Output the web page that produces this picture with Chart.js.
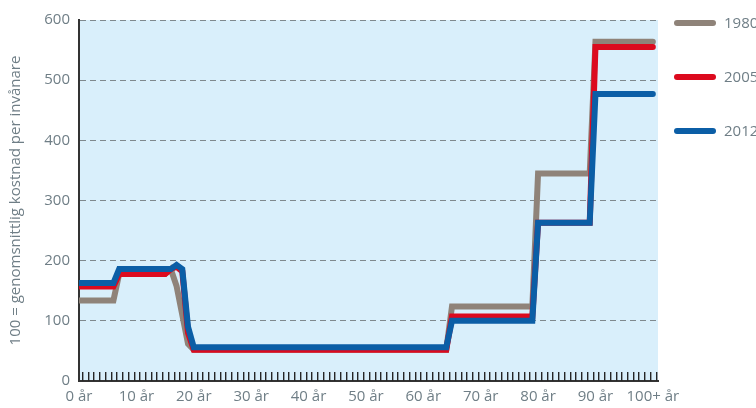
<!DOCTYPE html>
<html>
<head>
<meta charset="utf-8">
<script src="https://cdn.jsdelivr.net/npm/chart.js@4/dist/chart.umd.min.js"></script>
<style>
  html, body { margin: 0; padding: 0; background: #ffffff; overflow: hidden; }
  #wrap { position: relative; width: 756px; height: 408px; }
</style>
</head>
<body>
<div id="wrap"><canvas id="c" width="756" height="408"></canvas></div>
<script>
// Age categories (years), 100 = "100+"
const ages = [0,1,2,3,4,5,6,7,8,9,10,11,12,13,14,15,16,17,18,19,20,21,22,23,24,25,26,27,28,29,30,31,32,33,34,35,36,37,38,39,40,41,42,43,44,45,46,47,48,49,50,51,52,53,54,55,56,57,58,59,60,61,62,63,64,65,66,67,68,69,70,71,72,73,74,75,76,77,78,79,80,81,82,83,84,85,86,87,88,89,90,91,92,93,94,95,96,97,98,99,100];

// Cost index per age (100 = average cost per inhabitant)
const values1980 = [134,134,134,134,134,134,134,178,178,178,178,178,178,178,178,178,186,158,110,62,52,52,52,52,52,52,52,52,52,52,52,52,52,52,52,52,52,52,52,52,52,52,52,52,52,52,52,52,52,52,52,52,52,52,52,52,52,52,52,52,52,52,52,52,52,124,124,124,124,124,124,124,124,124,124,124,124,124,124,124,345,345,345,345,345,345,345,345,345,345,564,564,564,564,564,564,564,564,564,564,564];
const values2005 = [157,157,157,157,157,157,157,178,178,178,178,178,178,178,178,178,186,190,182,80,52,52,52,52,52,52,52,52,52,52,52,52,52,52,52,52,52,52,52,52,52,52,52,52,52,52,52,52,52,52,52,52,52,52,52,52,52,52,52,52,52,52,52,52,52,107,107,107,107,107,107,107,107,107,107,107,107,107,107,107,263,263,263,263,263,263,263,263,263,263,555,555,555,555,555,555,555,555,555,555,555];
const values2012 = [163,163,163,163,163,163,163,186,186,186,186,186,186,186,186,186,186,193,186,90,56,56,56,56,56,56,56,56,56,56,56,56,56,56,56,56,56,56,56,56,56,56,56,56,56,56,56,56,56,56,56,56,56,56,56,56,56,56,56,56,56,56,56,56,56,100,100,100,100,100,100,100,100,100,100,100,100,100,100,100,263,263,263,263,263,263,263,263,263,263,477,477,477,477,477,477,477,477,477,477,477];

const seriesNames = ['1980', '2005', '2012'];
const xTickAges = [0,10,20,30,40,50,60,70,80,90,100];
const xTickLabels = ['0 år','10 år','20 år','30 år','40 år','50 år','60 år','70 år','80 år','90 år','100+ år'];
const yTickValues = [0,100,200,300,400,500,600];
const yTitle = '100 = genomsnittlig kostnad per invånare';

const colors = ['#8f8379', '#dc0a1e', '#0b5ea6'];
const textColor = '#6f7e86';
const fontFamily = "'Open Sans', 'Noto Sans', sans-serif";

function pts(vals) { return ages.map((a, i) => ({ x: a, y: vals[i] })); }

const bgPlugin = {
  id: 'bg',
  beforeDraw(chart) {
    const a = chart.chartArea, ctx = chart.ctx;
    ctx.save();
    ctx.fillStyle = '#d9effb';
    ctx.fillRect(a.left, a.top, a.right - a.left, a.bottom - a.top);
    ctx.restore();
  }
};

const minorTicks = {
  id: 'minorTicks',
  afterDraw(chart) {
    const xs = chart.scales.x, a = chart.chartArea, ctx = chart.ctx;
    ctx.save();
    ctx.setLineDash([]);
    ctx.fillStyle = '#262626';
    for (let i = 0; i < ages.length; i++) {
      const px = Math.round(xs.getPixelForValue(ages[i] + 0.5));
      ctx.fillRect(px, a.bottom - 9, 1.4, 9);
    }
    ctx.restore();
  }
};

const customLegend = {
  id: 'customLegend',
  afterDraw(chart) {
    const ctx = chart.ctx;
    const ys = [23, 77, 131];
    ctx.save();
    ctx.setLineDash([]);
    chart.data.datasets.forEach((ds, i) => {
      ctx.strokeStyle = ds.borderColor;
      ctx.lineWidth = 6;
      ctx.lineCap = 'round';
      ctx.beginPath();
      ctx.moveTo(677, ys[i]);
      ctx.lineTo(713, ys[i]);
      ctx.stroke();
      ctx.fillStyle = textColor;
      ctx.font = '15px ' + fontFamily;
      ctx.textBaseline = 'middle';
      ctx.textAlign = 'left';
      ctx.fillText(ds.label, 724, ys[i] + 1);
    });
    ctx.restore();
  }
};

new Chart(document.getElementById('c'), {
  type: 'line',
  data: {
    datasets: [
      { label: seriesNames[0], data: pts(values1980), borderColor: colors[0], order: 2 },
      { label: seriesNames[1], data: pts(values2005), borderColor: colors[1], order: 1 },
      { label: seriesNames[2], data: pts(values2012), borderColor: colors[2], order: 0 }
    ]
  },
  options: {
    responsive: false,
    animation: false,
    devicePixelRatio: 1,
    layout: { padding: { top: 20, right: 98, left: 0, bottom: 0 } },
    elements: {
      line: { borderWidth: 6, tension: 0, borderCapStyle: 'round', borderJoinStyle: 'miter', fill: false },
      point: { radius: 0, hoverRadius: 0 }
    },
    plugins: { legend: { display: false }, tooltip: { enabled: false } },
    scales: {
      x: {
        type: 'linear',
        min: 0,
        max: 100.9,
        afterFit(s) { s.height = 27; },
        afterBuildTicks(s) { s.ticks = xTickAges.map(v => ({ value: v })); },
        ticks: {
          autoSkip: false, maxRotation: 0, includeBounds: false, padding: 7,
          color: textColor, font: { family: fontFamily, size: 15 },
          callback: (v, i) => xTickLabels[i]
        },
        grid: { display: false, drawTicks: false },
        border: { display: true, color: '#333333', width: 2 }
      },
      y: {
        min: 0,
        max: 600,
        afterFit(s) { s.width = 79; },
        afterBuildTicks(s) { s.ticks = yTickValues.map(v => ({ value: v })); },
        ticks: {
          padding: 9, color: textColor, font: { family: fontFamily, size: 15 }
        },
        grid: { color: '#7f898e', lineWidth: 1, drawTicks: false },
        border: { display: true, color: '#333333', width: 2, dash: [6, 4] },
        title: {
          display: true, text: yTitle, color: textColor,
          font: { family: fontFamily, size: 15 }, padding: { top: 7, bottom: 0 }
        }
      }
    }
  },
  plugins: [bgPlugin, minorTicks, customLegend]
});
</script>
</body>
</html>
